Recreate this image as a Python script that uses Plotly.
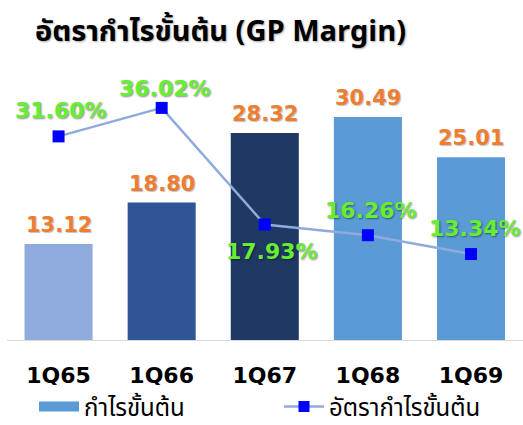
import plotly.graph_objects as go

categories = ["1Q65", "1Q66", "1Q67", "1Q68", "1Q69"]
gross_profit = [13.12, 18.80, 28.32, 30.49, 25.01]
gp_margin = [31.60, 36.02, 17.93, 16.26, 13.34]
bar_colors = ["#8FAADC", "#2F5597", "#203864", "#5B9BD5", "#5B9BD5"]
margin_label_dx = [2, 3, 7, 3, 4]
margin_label_dy = [26, 19, -27, 25, 26]

title_text = "อัตรากำไรขั้นต้น (GP Margin)"
bar_name = "กำไรขั้นต้น"
line_name = "อัตรากำไรขั้นต้น"

NUM_FONT = "DejaVu Sans"
TH_FONT = "Noto Sans Thai, Loma, Garuda, Noto Sans, DejaVu Sans, sans-serif"

fig = go.Figure()

fig.add_trace(go.Bar(
    x=categories, y=gross_profit, marker=dict(color=bar_colors, line=dict(width=0)),
    width=0.66, showlegend=False, hoverinfo="skip",
))
fig.add_trace(go.Scatter(
    x=categories, y=gp_margin, yaxis="y2", mode="lines+markers",
    line=dict(color="#8FAADC", width=2.5),
    marker=dict(symbol="square", size=12, color="#0000FF"),
    showlegend=False, hoverinfo="skip",
))
# legend entries (bar swatch drawn as a thick line for a wide rectangle)
fig.add_trace(go.Scatter(x=[None], y=[None], name=bar_name, mode="lines",
                         line=dict(color="#5B9BD5", width=13)))
fig.add_trace(go.Scatter(x=[None], y=[None], name=line_name, mode="lines+markers",
                         line=dict(color="#8FAADC", width=2.5),
                         marker=dict(symbol="square", size=11, color="#0000FF")))

annotations = []
for c, v in zip(categories, gross_profit):
    annotations.append(dict(
        x=c, y=v, xref="x", yref="y", text=f"{v:.2f}", showarrow=False,
        xanchor="center", yanchor="middle", yshift=19,
        font=dict(family=NUM_FONT, size=21, color="#ED7D31", weight="bold",
                  shadow="1px 1px 1px rgba(0,0,0,0.25)"),
    ))
for c, v, dx, dy in zip(categories, gp_margin, margin_label_dx, margin_label_dy):
    annotations.append(dict(
        x=c, y=v, xref="x", yref="y2", text=f"{v:.2f}%", showarrow=False,
        xanchor="center", yanchor="middle", yshift=dy, xshift=dx,
        font=dict(family=NUM_FONT, size=22, color="#66EE33", weight="bold",
                  shadow="1px 1px 2px rgba(0,0,0,0.45)"),
    ))

fig.update_layout(
    width=523, height=425,
    margin=dict(l=7, r=0, t=90, b=85, autoexpand=False),
    paper_bgcolor="white", plot_bgcolor="white",
    title=dict(text=title_text, x=35 / 523, xanchor="left", xref="container",
               y=1 - 31 / 425, yanchor="middle", yref="container",
               font=dict(family=TH_FONT, size=29, color="black", weight="bold",
                         shadow="1px 1px 2px rgba(0,0,0,0.35)")),
    xaxis=dict(showgrid=False, showline=True, linecolor="#D9D9D9", linewidth=1,
               ticks="", ticklabelstandoff=16, automargin=False,
               tickfont=dict(family=NUM_FONT, size=22, color="black", weight="bold")),
    yaxis=dict(range=[0, 34.2], visible=False, showgrid=False),
    yaxis2=dict(range=[0, 38.8], overlaying="y", side="right", visible=False, showgrid=False),
    legend=dict(orientation="h", x=34 / 523, xref="container", y=18 / 425, yref="container",
                xanchor="left", yanchor="middle",
                font=dict(family=TH_FONT, size=24, color="black"),
                itemwidth=40, tracegroupgap=0, entrywidth=190),
    annotations=annotations,
    showlegend=True,
)

fig.write_html("out.html", config={"displayModeBar": False},
               post_script="document.body.style.margin='0';document.body.style.overflow='hidden';")
